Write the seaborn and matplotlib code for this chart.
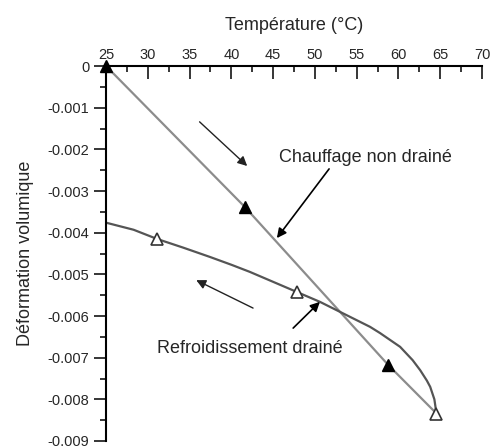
import numpy as np
import pandas as pd
import seaborn as sns
import matplotlib.pyplot as plt
from matplotlib.ticker import MultipleLocator, FuncFormatter

sns.set_style("white")
plt.rcParams['font.family'] = ['Liberation Sans', 'DejaVu Sans']
plt.rcParams['axes.unicode_minus'] = False

# Chauffage non drainé (ligne droite)
t_chauffe = [25.0, 41.6, 58.8, 64.55]
eps_chauffe = [0.0, -0.00338, -0.00718, -0.00834]

# Refroidissement drainé (courbe)
t_refroid = [64.55, 64.3, 63.8, 63.4, 62.6, 61.7, 60.2, 57.8, 56.6, 53.0, 50.6,
             47.8, 45.0, 42.2, 40.0, 37.4, 34.25, 31.1, 28.3, 25.0]
eps_refroid = [-0.00834, -0.00800, -0.00770, -0.00755, -0.00730, -0.00706, -0.00674,
               -0.00641, -0.00626, -0.00590, -0.00566, -0.00542, -0.00518, -0.00494,
               -0.00477, -0.00458, -0.00436, -0.00415, -0.00393, -0.00376]

# marqueurs
t_mk_chauffe = [25.0, 41.6, 58.8]
eps_mk_chauffe = [0.0, -0.00338, -0.00718]
t_mk_refroid = [64.55, 47.8, 31.1]
eps_mk_refroid = [-0.00834, -0.00542, -0.00415]

df_c = pd.DataFrame({'T': t_chauffe, 'eps': eps_chauffe})
df_r = pd.DataFrame({'T': t_refroid, 'eps': eps_refroid})

fig = plt.figure(figsize=(4.93, 4.46), dpi=100)
ax = fig.add_axes([106 / 493, 1 - 441 / 446, 376 / 493, 375 / 446])

sns.lineplot(data=df_c, x='T', y='eps', sort=False, color='#8c8c8c', lw=1.6, ax=ax)
sns.lineplot(data=df_r, x='T', y='eps', sort=False, color='#555555', lw=1.6, ax=ax)

ax.plot(t_mk_chauffe, eps_mk_chauffe, ls='none', marker='^', ms=8,
        mfc='black', mec='black', clip_on=False, zorder=5)
ax.plot(t_mk_refroid, eps_mk_refroid, ls='none', marker='^', ms=8,
        mfc='white', mec='#333333', mew=1.2, clip_on=False, zorder=5)

ax.set_xlim(25, 70)
ax.set_ylim(-0.009, 0)

ax.xaxis.set_ticks_position('top')
ax.xaxis.set_label_position('top')
ax.xaxis.set_major_locator(MultipleLocator(5))
ax.xaxis.set_minor_locator(MultipleLocator(2.5))
ax.yaxis.set_major_locator(MultipleLocator(0.001))
ax.yaxis.set_minor_locator(MultipleLocator(0.0005))
ax.yaxis.set_major_formatter(FuncFormatter(lambda v, p: '0' if abs(v) < 1e-9 else f'{v:.3f}'))

ax.tick_params(axis='x', which='major', direction='in', length=9, width=1.3,
               labelsize=10.5, pad=3, top=True, bottom=False)
ax.tick_params(axis='x', which='minor', direction='in', length=4.5, width=1.3,
               top=True, bottom=False)
ax.tick_params(axis='y', which='major', direction='out', length=9, width=1.3,
               labelsize=10.5, pad=3, left=True)
ax.tick_params(axis='y', which='minor', direction='out', length=4.5, width=1.3, left=True)

for s in ['right', 'bottom']:
    ax.spines[s].set_visible(False)
for s in ['top', 'left']:
    ax.spines[s].set_linewidth(1.5)
    ax.spines[s].set_color('black')

ax.set_xlabel('Température (°C)', fontsize=13, labelpad=13)
ax.set_ylabel('Déformation volumique', fontsize=13, labelpad=10)

arrow = dict(arrowstyle='-|>', color='black', lw=1.2, mutation_scale=14, shrinkA=0, shrinkB=0)
thin = dict(arrowstyle='-|>', color='#222222', lw=1.0, mutation_scale=14, shrinkA=0, shrinkB=0)

ax.annotate('', xy=(41.9, -0.0024), xytext=(36.2, -0.00134), arrowprops=thin)
ax.annotate('', xy=(35.8, -0.00514), xytext=(42.6, -0.00581), arrowprops=thin)

ax.text(56.0, -0.0022, 'Chauffage non drainé', fontsize=13, ha='center', va='center')
ax.annotate('', xy=(45.45, -0.00413), xytext=(51.7, -0.00247), arrowprops=arrow)

ax.text(42.2, -0.00679, 'Refroidissement drainé', fontsize=13, ha='center', va='center')
ax.annotate('', xy=(50.6, -0.00566), xytext=(47.4, -0.00629), arrowprops=arrow)

fig.savefig('out.png', dpi=100)
